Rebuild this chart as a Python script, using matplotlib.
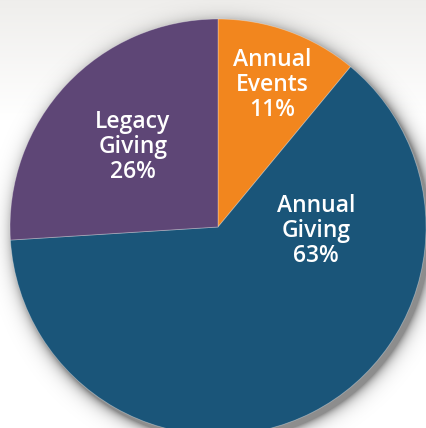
import numpy as np
import matplotlib
matplotlib.use("Agg")
import matplotlib.pyplot as plt

labels = ["Annual\nEvents\n11%", "Annual\nGiving\n63%", "Legacy\nGiving\n26%"]
values = [11, 63, 26]
colors = ["#f2861e", "#1a5579", "#5e4676"]

W, H = 427, 428
fig = plt.figure(figsize=(W / 100, H / 100), dpi=100)
ax = fig.add_axes([0, 0, 1, 1])
ax.set_axis_off()

cx, cy, R = 218.0, H - 227.0, 208.0

# background gradient (light gray top to white)
yy = np.linspace(0, 1, H)[:, None]  # 0 at top
t = np.clip(yy / 0.28, 0, 1)
top = np.array([0.937, 0.933, 0.925])
bot = np.array([1.0, 1.0, 1.0])
bg = top * (1 - t[..., None]) + bot * t[..., None]
bg = np.repeat(bg, W, axis=1)
ax.imshow(bg, extent=[0, W, 0, H], origin="upper", zorder=0, aspect="auto")

# soft drop shadow
xs = np.arange(W) + 0.5
ys = H - (np.arange(H) + 0.5)
X, Y = np.meshgrid(xs, ys)
d = np.hypot(X - (cx + 4), Y - (cy - 5)) - R
alpha = np.clip(0.45 * np.exp(-np.clip(d, 0, None) / 6.0), 0, 0.45)
sh = np.zeros((H, W, 4))
sh[..., 3] = alpha
ax.imshow(sh, extent=[0, W, 0, H], origin="upper", zorder=1, aspect="auto")

wedges, _ = ax.pie(values, colors=colors, startangle=90, counterclock=False,
                   center=(cx, cy), radius=R,
                   wedgeprops=dict(linewidth=0.6, edgecolor=(1, 1, 1, 0.35)))
for w in wedges:
    w.set_zorder(2)

ax.set_xlim(0, W)
ax.set_ylim(0, H)
ax.set_aspect("auto")

pos = [(272, H - 85), (316, H - 231), (133, H - 147)]
for lab, (x, y) in zip(labels, pos):
    ax.text(x, y, lab, ha="center", va="center", color="white",
            fontsize=16.5, family="Open Sans", weight="semibold",
            linespacing=1.06, zorder=3)

fig.savefig("out.png", dpi=100)
